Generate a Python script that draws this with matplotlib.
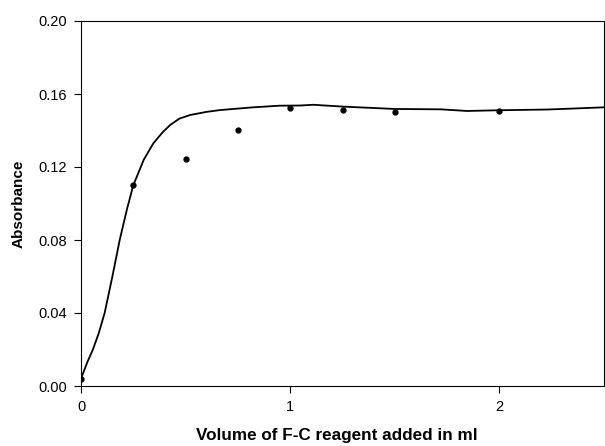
import numpy as np
import matplotlib.pyplot as plt

plt.rcParams['font.family'] = ['Liberation Sans', 'DejaVu Sans']

## Measured points
vol_pts = [0.0, 0.25, 0.5, 0.75, 1.0, 1.25, 1.5, 2.0]
abs_pts = [0.004, 0.110, 0.1244, 0.1403, 0.1522, 0.1515, 0.1504, 0.1505]

## Fitted curve
vol_fit = [0.0, 0.03, 0.057, 0.085, 0.113, 0.15, 0.185, 0.22, 0.25, 0.30,
           0.346, 0.39, 0.426, 0.47, 0.522, 0.60, 0.665, 0.823, 0.95, 1.05,
           1.11, 1.25, 1.50, 1.72, 1.845, 2.0, 2.23, 2.39, 2.5]
abs_fit = [0.004, 0.013, 0.020, 0.029, 0.040, 0.060, 0.080, 0.097, 0.110, 0.124,
           0.133, 0.139, 0.143, 0.1465, 0.1485, 0.1502, 0.1512, 0.1527, 0.1536, 0.1537,
           0.1541, 0.1531, 0.1518, 0.1516, 0.1507, 0.1511, 0.1515, 0.1522, 0.1527]

fig = plt.figure(figsize=(6.05, 4.46), dpi=100)
ax = fig.add_axes([81 / 605, 60 / 446, 523 / 605, 365 / 446])

ax.plot(vol_fit, abs_fit, color='black', lw=1.3)
ax.plot(vol_pts, abs_pts, 'o', color='black', ms=3.5)

ax.set_xlim(0, 2.5)
ax.set_ylim(0, 0.2)
ax.set_xticks([0, 1, 2])
ax.set_xticklabels(['0', '1', '2'])
ax.set_yticks([0, 0.04, 0.08, 0.12, 0.16, 0.20])
ax.set_yticklabels(['0.00', '0.04', '0.08', '0.12', '0.16', '0.20'])
ax.tick_params(direction='out', length=5, width=0.8, labelsize=10.5, pad=5)

ax.set_xlabel('Volume of F-C reagent added in ml', fontsize=12.3, fontweight='bold')
ax.xaxis.set_label_coords(0.49, -0.115)
ax.set_ylabel('Absorbance', fontsize=11, fontweight='bold')
ax.yaxis.set_label_coords(-0.105, 0.5)

for s in ax.spines.values():
    s.set_linewidth(0.8)

fig.savefig('out.png', dpi=100)
